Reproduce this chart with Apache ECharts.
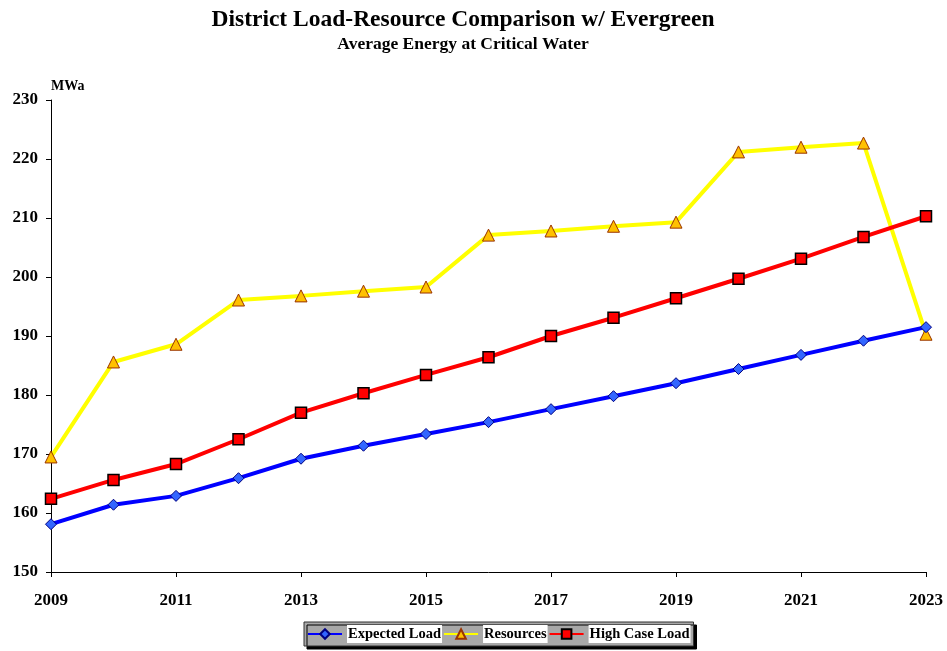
<!DOCTYPE html>
<html>
<head>
<meta charset="utf-8">
<script src="https://cdn.jsdelivr.net/npm/echarts@6/dist/echarts.min.js"></script>
<style>
  html, body { margin: 0; padding: 0; background: #fff; }
  #chart { width: 947px; height: 651px; }
</style>
</head>
<body>
<div id="chart"></div>
<script>
// Years on the horizontal axis
const years = ['2009','2010','2011','2012','2013','2014','2015','2016','2017','2018','2019','2020','2021','2022','2023'];

// Average energy, MWa
const expectedLoad = [158.1, 161.4, 162.9, 165.9, 169.2, 171.4, 173.4, 175.4, 177.6, 179.8, 182.0, 184.4, 186.8, 189.2, 191.5];
const resources    = [169.5, 185.6, 188.6, 196.1, 196.8, 197.6, 198.3, 207.1, 207.8, 208.6, 209.3, 221.2, 222.0, 222.7, 190.3];
const highCaseLoad = [162.4, 165.6, 168.3, 172.5, 177.0, 180.3, 183.4, 186.4, 190.0, 193.1, 196.4, 199.7, 203.1, 206.8, 210.3];

const FONT = '"Liberation Serif", "Times New Roman", serif';

const chart = echarts.init(document.getElementById('chart'));
chart.setOption({
  animation: false,
  backgroundColor: '#ffffff',
  title: {
    text: 'District Load-Resource Comparison w/ Evergreen',
    subtext: 'Average Energy at Critical Water',
    left: 458,
    textAlign: 'center',
    top: 3,
    itemGap: 3,
    textStyle: { fontFamily: FONT, fontWeight: 'bold', fontSize: 23.5, color: '#000' },
    subtextStyle: { fontFamily: FONT, fontWeight: 'bold', fontSize: 17.5, color: '#000' }
  },
  legend: {
    bottom: 5,
    left: 304,
    itemWidth: 34,
    itemHeight: 12,
    itemGap: 1,
    padding: [3, 3, 3, 3],
    backgroundColor: '#a8a8a8',
    borderColor: '#333',
    borderWidth: 1,
    shadowColor: '#000',
    shadowOffsetX: 3,
    shadowOffsetY: 3,
    textStyle: {
      fontFamily: FONT, fontWeight: 'bold', fontSize: 14.5, color: '#000',
      backgroundColor: '#fff', padding: [2, 1, 1, 1]
    },
    data: ['Expected Load', 'Resources', 'High Case Load']
  },
  grid: { left: 51, right: 21, top: 100, bottom: 79, containLabel: false },
  xAxis: {
    type: 'category',
    data: years,
    boundaryGap: false,
    axisLine: { lineStyle: { color: '#000', width: 1 } },
    axisTick: { interval: 1, length: 5, lineStyle: { color: '#000' } },
    axisLabel: {
      interval: 1, margin: 20,
      fontFamily: FONT, fontWeight: 'bold', fontSize: 17, color: '#000'
    },
    splitLine: { show: false }
  },
  yAxis: {
    type: 'value',
    min: 150, max: 230, interval: 10,
    name: 'MWa',
    nameLocation: 'end',
    nameGap: 7,
    nameTextStyle: { fontFamily: FONT, fontWeight: 'bold', fontSize: 14, color: '#000', align: 'left', padding: [0, 0, 0, 0] },
    axisLine: { show: true, lineStyle: { color: '#000', width: 1 } },
    axisTick: { show: true, length: 5, lineStyle: { color: '#000' } },
    axisLabel: { margin: 13, fontFamily: FONT, fontWeight: 'bold', fontSize: 17, color: '#000' },
    splitLine: { show: false }
  },
  series: [
    {
      name: 'Expected Load',
      type: 'line',
      data: expectedLoad,
      symbol: 'diamond',
      symbolSize: 11,
      lineStyle: { color: '#0000ff', width: 4 },
      itemStyle: { color: '#3366ff', borderColor: '#000080', borderWidth: 1 },
      z: 3
    },
    {
      name: 'Resources',
      type: 'line',
      data: resources,
      symbol: 'triangle',
      symbolSize: 12,
      lineStyle: { color: '#ffff00', width: 4 },
      itemStyle: { color: '#ffc000', borderColor: '#993300', borderWidth: 1 },
      z: 2
    },
    {
      name: 'High Case Load',
      type: 'line',
      data: highCaseLoad,
      symbol: 'rect',
      symbolSize: 11,
      lineStyle: { color: '#ff0000', width: 4 },
      itemStyle: { color: '#ff0000', borderColor: '#000', borderWidth: 1.5 },
      z: 4
    }
  ]
});
</script>
</body>
</html>
